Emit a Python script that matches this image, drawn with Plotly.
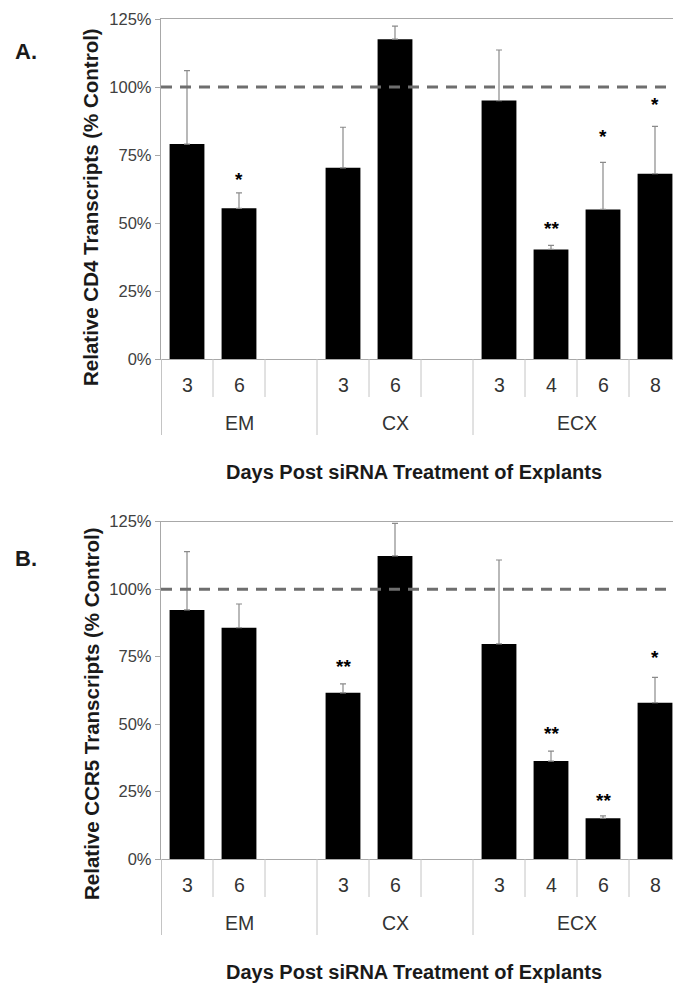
import plotly.graph_objects as go

# ---------------- data ----------------
categories = ["EM-3", "EM-6", "EM-gap", "CX-3", "CX-6", "CX-gap",
              "ECX-3", "ECX-4", "ECX-6", "ECX-8"]
day_labels = ["3", "6", "", "3", "6", "", "3", "4", "6", "8"]
groups = ["EM", "CX", "ECX"]
group_spans = [(0, 2), (3, 5), (6, 9)]

cd4_values = [79.0, 55.4, None, 70.3, 117.6, None, 95.0, 40.3, 55.0, 68.1]
cd4_err    = [27.0, 5.7, None, 14.9, 4.8, None, 18.6, 1.5, 17.3, 17.4]
cd4_sig    = ["", "*", "", "", "", "", "", "**", "*", "*"]
cd4_sig_y  = [None, 67.6, None, None, None, None, None, 49.6, 83.3, 95.2]

ccr5_values = [92.3, 85.7, None, 61.6, 112.3, None, 79.7, 36.3, 15.1, 57.9]
ccr5_err    = [21.6, 8.8, None, 3.3, 12.1, None, 31.1, 3.7, 0.9, 9.4]
ccr5_sig    = ["", "", "", "**", "", "", "", "**", "**", "*"]
ccr5_sig_y  = [None, None, None, 72.8, None, None, None, 48.1, 23.1, 76.2]

y_ticks = [0, 25, 50, 75, 100, 125]
y_ticktext = ["0%", "25%", "50%", "75%", "100%", "125%"]
control_level = 100

panel_letters = ["A.", "B."]
y_titles = ["Relative CD4 Transcripts (% Control)",
            "Relative CCR5 Transcripts (% Control)"]
x_title = "Days Post siRNA Treatment of Explants"

# ---------------- layout geometry ----------------
W, H = 673, 983
FONT = "Liberation Sans, Arial, sans-serif"
x_left = 161
panels_px = [(19, 359), (521.7, 859)]
y_title_centers = [207, 714]
letter_centers = [52, 558]
slot_px = 52.0
x_range = [-0.5, -0.5 + (W - x_left) / slot_px]

def py(p):
    return 1 - p / H

fig = go.Figure()
annotations = []
shapes = []

panel_data = [
    (cd4_values, cd4_err, cd4_sig, cd4_sig_y),
    (ccr5_values, ccr5_err, ccr5_sig, ccr5_sig_y),
]

def ann(**kw):
    d = dict(showarrow=False, xanchor="center", yanchor="middle")
    d.update(kw)
    annotations.append(d)

for k, (vals, errs, sigs, sig_y) in enumerate(panel_data):
    xa = "x" if k == 0 else "x2"
    ya = "y" if k == 0 else "y2"
    top_px, bot_px = panels_px[k]
    fig.add_trace(go.Bar(
        x=categories, y=vals, xaxis=xa, yaxis=ya,
        marker=dict(color="black", line=dict(color="black", width=0)),
        width=0.67,
        error_y=dict(type="data", symmetric=False, array=errs,
                     arrayminus=[0 if e is not None else None for e in errs],
                     color="#8a8a8a", thickness=1.2, width=3),
        showlegend=False, hoverinfo="skip",
    ))
    shapes.append(dict(type="line", xref=f"{xa} domain", yref=ya,
                       x0=0, x1=1, y0=control_level, y1=control_level,
                       line=dict(color="#6e6e6e", width=3, dash="11px,8px"),
                       layer="above"))
    for i, (s, sy) in enumerate(zip(sigs, sig_y)):
        if s:
            ann(x=categories[i], y=sy, xref=xa, yref=ya, text=f"<b>{s}</b>",
                font=dict(family=FONT, size=19, color="black"), yshift=-4)
    y_axis_paper = py(bot_px)
    short_end = py(bot_px + 38)
    long_end = py(bot_px + 76)
    for b in range(1, 10):
        xb = b - 0.5
        is_group = any(xb == s0 - 0.5 for s0, _ in group_spans)
        shapes.append(dict(type="line", xref=xa, yref="paper",
                           x0=xb, x1=xb, y0=y_axis_paper,
                           y1=long_end if is_group else short_end,
                           line=dict(color="#c4c4c4", width=1)))
    shapes.append(dict(type="line", xref="paper", yref="paper",
                       x0=(x_left + 0.5) / W, x1=(x_left + 0.5) / W,
                       y0=y_axis_paper, y1=long_end,
                       line=dict(color="#c4c4c4", width=1)))
    for i, lab in enumerate(day_labels):
        if lab:
            ann(x=categories[i], y=py(bot_px + 26), xref=xa, yref="paper", text=lab,
                font=dict(family=FONT, size=19.5, color="#333333"))
    for g, (s0, s1) in zip(groups, group_spans):
        ann(x=(s0 + s1) / 2, y=py(bot_px + 64), xref=xa, yref="paper", text=g,
            font=dict(family=FONT, size=19.5, color="#333333"))
    ann(x=414 / W, y=py(bot_px + 113), xref="paper", yref="paper",
        text=f"<b>{x_title}</b>", font=dict(family=FONT, size=20, color="#1a1a1a"))
    ann(x=91 / W, y=py(y_title_centers[k]), xref="paper", yref="paper",
        text=f"<b>{y_titles[k]}</b>", textangle=-90,
        font=dict(family=FONT, size=20.5, color="#1a1a1a"))
    ann(x=26 / W, y=py(letter_centers[k]), xref="paper", yref="paper",
        text=f"<b>{panel_letters[k]}</b>", font=dict(family=FONT, size=22, color="#1a1a1a"))

axis_common_x = dict(type="category", categoryorder="array", categoryarray=categories,
                     range=x_range, showticklabels=False, ticks="", showgrid=False,
                     zeroline=False, showline=True, linecolor="#a8a8a8", linewidth=1.3,
                     mirror=True, fixedrange=True, automargin=False)
axis_common_y = dict(range=[0, 125], tickvals=y_ticks, ticktext=y_ticktext,
                     ticks="outside", ticklen=5, tickcolor="#a8a8a8",
                     tickfont=dict(family=FONT, size=16.5, color="#404040"),
                     showgrid=False, zeroline=False, showline=True,
                     linecolor="#a8a8a8", linewidth=1.3, mirror=False,
                     fixedrange=True, automargin=False)

fig.update_layout(
    width=W, height=H,
    margin=dict(l=0, r=0, t=0, b=0, autoexpand=False),
    paper_bgcolor="white", plot_bgcolor="white",
    font=dict(family=FONT),
    xaxis=dict(axis_common_x, domain=[x_left / W, 1], anchor="y"),
    yaxis=dict(axis_common_y, domain=[py(panels_px[0][1]), py(panels_px[0][0])],
               anchor="x"),
    xaxis2=dict(axis_common_x, domain=[x_left / W, 1], anchor="y2"),
    yaxis2=dict(axis_common_y, domain=[py(panels_px[1][1]), py(panels_px[1][0])],
                anchor="x2"),
    annotations=annotations,
    shapes=shapes,
)

fig.write_html("out.html")
